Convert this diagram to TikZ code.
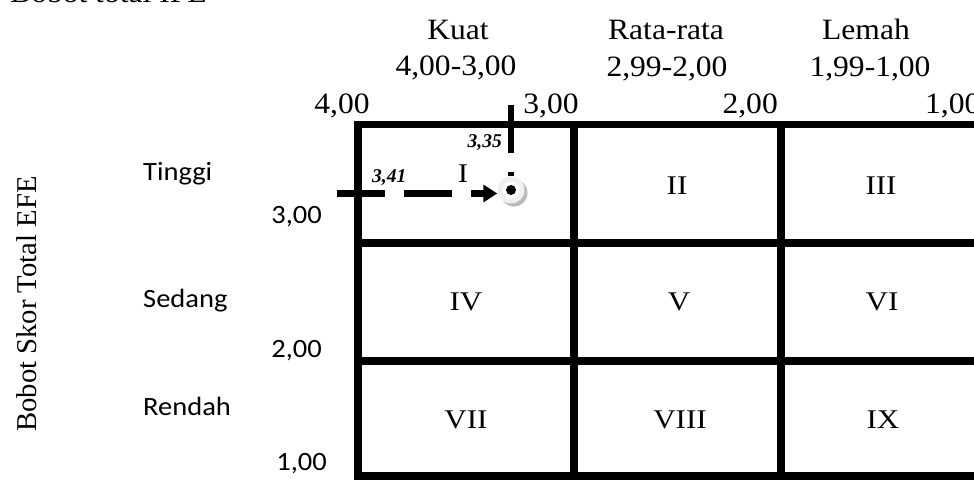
\documentclass[tikz,border=0pt]{standalone}
\usepackage{fontspec}
\setmainfont{Liberation Serif}[FakeStretch=1.07]
\newfontfamily\calfont{Carlito}[FakeStretch=1.08]
\newfontfamily\cellfont{Liberation Serif}[FakeStretch=1.15]
\newfontfamily\plainserif{Liberation Serif}
\usetikzlibrary{arrows.meta}

\begin{document}
\begin{tikzpicture}[x=1pt, y=-1pt,
  tnr/.style={font=\fontsize{29.5}{33}\selectfont, inner sep=0pt},
  cell/.style={font=\cellfont\fontsize{27}{30}\selectfont, inner sep=0pt},
  cal/.style={font=\calfont\fontsize{26.4}{30}\selectfont, inner sep=0pt},
  val/.style={font=\plainserif\fontsize{19.5}{22}\selectfont\bfseries\itshape, inner sep=0pt},
  gridline/.style={line width=7.5pt},
  guide/.style={line width=6.5pt, dash pattern=on 48pt off 19pt}]
  \useasboundingbox (0,0) rectangle (974,479);
  % cut-off title
  \node[tnr, anchor=base west] (title) at (10,2) {Bobot total IFE};
  % column headings
  \node[tnr, anchor=base] (kuat) at (458,39) {Kuat};
  \node[tnr, anchor=base] (kuatr) at (456,75) {4,00-3,00};
  \node[tnr, anchor=base] (rata) at (666,39) {Rata-rata};
  \node[tnr, anchor=base] (ratar) at (667,76) {2,99-2,00};
  \node[tnr, anchor=base] (lemah) at (866,39) {Lemah};
  \node[tnr, anchor=base] (lemahr) at (870,76) {1,99-1,00};
  % column scale
  \node[tnr, anchor=base] (x4) at (342,113) {4,00};
  \node[tnr, anchor=base] (x3) at (551,113) {3,00};
  \node[tnr, anchor=base east] (x2) at (778,113) {2,00};
  \node[tnr, anchor=base west] (x1) at (925,113) {1,00};
  % row labels and scale
  \node[font=\plainserif\fontsize{28.7}{32}\selectfont, rotate=90, inner sep=0pt] (yaxis) at (27,304)
    {Bobot Skor Total EFE};
  \node[cal, anchor=base west] (tinggi) at (143,180) {Tinggi};
  \node[cal, anchor=base west] (sedang) at (143,307) {Sedang};
  \node[cal, anchor=base west] (rendah) at (143,415) {Rendah};
  \node[cal, anchor=base east] (y3) at (322,223) {3,00};
  \node[cal, anchor=base east] (y2) at (322,357) {2,00};
  \node[cal, anchor=base east] (y1) at (327,470) {1,00};
  % grid
  \draw[gridline] (354,124.5) -- (990,124.5);
  \draw[gridline] (354,243) -- (990,243);
  \draw[gridline] (354,361) -- (990,361);
  \draw[gridline] (354,476) -- (990,476);
  \draw[gridline] (358,121) -- (358,480);
  \draw[gridline] (574,121) -- (574,480);
  \draw[gridline] (781,121) -- (781,480);
  \draw[gridline] (988,121) -- (988,480);
  % cell numbers
  \node[cell] (c1) at (463,174) {I};
  \node[cell] (c2) at (677,186) {II};
  \node[cell] (c3) at (881,186) {III};
  \node[cell] (c4) at (466,302) {IV};
  \node[cell] (c5) at (679,302) {V};
  \node[cell] (c6) at (882,302) {VI};
  \node[cell] (c7) at (466,420) {VII};
  \node[cell] (c8) at (680,420) {VIII};
  \node[cell] (c9) at (883,420) {IX};
  % position of the company
  \fill[gray!55] (514,193) circle (13.5pt);
  \node[circle, fill=gray!12, minimum size=27pt, inner sep=0pt] (pos) at (511,190) {};
  \fill[white] (pos.center) circle (8.5pt);
  \fill[black] (pos.center) circle (5pt);
  \coordinate (h0) at (337,193.5);
  \coordinate (v0) at (511,105);
  \draw[guide, -{Triangle[length=14pt, width=17pt]}] (h0) -- (pos.west |- h0);
  \draw[guide] (v0) -- (pos.north);
  \node[val, anchor=base west] (ife) at (372,182) {3,41};
  \node[val, anchor=base east] (efe) at (502,147) {3,35};
\end{tikzpicture}
\end{document}
